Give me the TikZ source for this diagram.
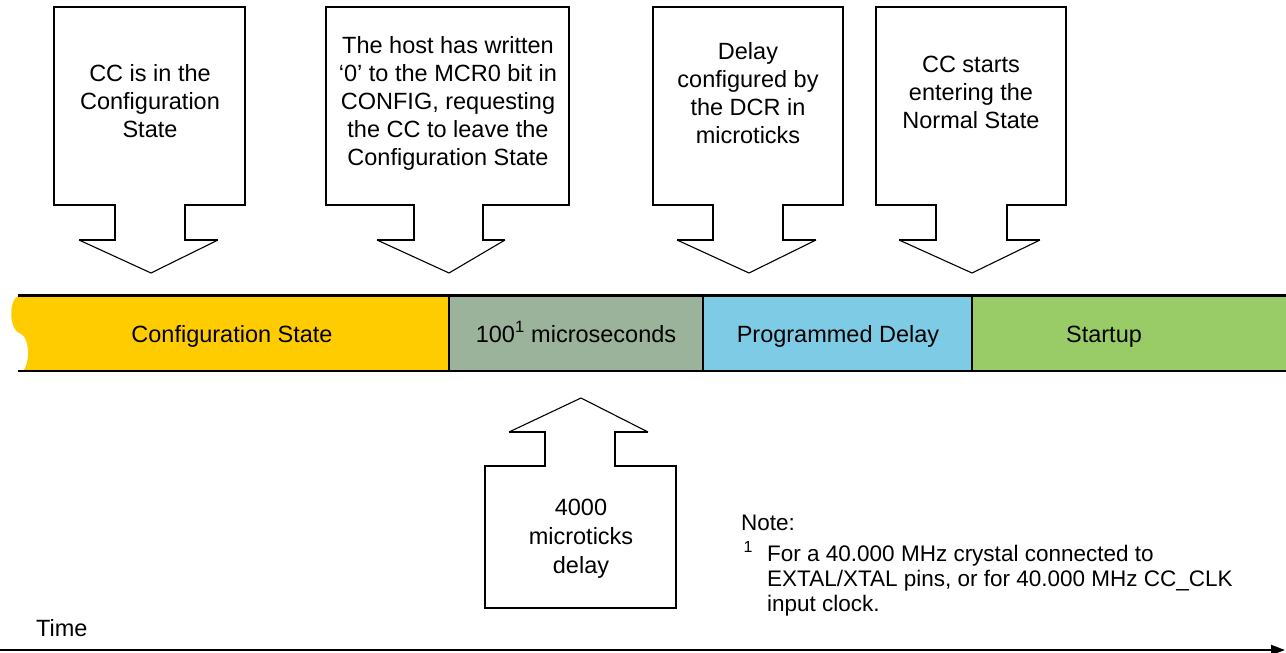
\documentclass[tikz,border=0pt]{standalone}
\usepackage{fontspec}
\setmainfont{Liberation Sans}
\usetikzlibrary{arrows.meta}
\definecolor{cfgyellow}{RGB}{255,204,0}
\definecolor{usgray}{RGB}{155,178,155}
\definecolor{pdblue}{RGB}{126,203,230}
\definecolor{stgreen}{RGB}{153,204,102}
\tikzset{
  boxline/.style={draw=black, line width=1.9pt, line join=miter},
  headline/.style={draw=black, line width=1.1pt, line join=miter},
  lbl/.style={inner sep=0pt, align=center, font=\fontsize{23.5}{28}\selectfont},
  barlbl/.style={inner sep=0pt, anchor=base, font=\fontsize{23.5}{28}\selectfont},
  notelbl/.style={inner sep=0pt, align=left, anchor=west, font=\fontsize{22.5}{25}\selectfont},
  barline/.style={draw=black, line width=2.4pt},
  divline/.style={draw=black, line width=1.8pt},
}
\begin{document}
\begin{tikzpicture}[x=1pt,y=-1pt]
\useasboundingbox (0,0) rectangle (1286,653);

% ---------- down arrows ----------
% arrow 1
\draw[boxline] (79,240) -- (115,240) -- (115,205) -- (54,205) -- (54,7) -- (245,7) -- (245,205) -- (185,205) -- (185,240) -- (218,240);
\draw[headline] (218,240) -- (151,273) -- (79,240);
\node[lbl] (t1) at (150,101) {CC is in the\\Configuration\\State};
% arrow 2
\draw[boxline] (377,240) -- (414,240) -- (414,205) -- (326,205) -- (326,7) -- (569,7) -- (569,205) -- (483,205) -- (483,240) -- (505,240);
\draw[headline] (505,240) -- (449,273) -- (377,240);
\node[lbl] (t2) at (448,103) {The host has written\\`0' to the MCR0 bit in\\CONFIG, requesting\\the CC to leave the\\Configuration State};
% arrow 3
\draw[boxline] (677,240) -- (713,240) -- (713,205) -- (653,205) -- (653,7) -- (843,7) -- (843,205) -- (783,205) -- (783,240) -- (816,240);
\draw[headline] (816,240) -- (749,273) -- (677,240);
\node[lbl] (t3) at (748,93) {Delay\\configured by\\the DCR in\\microticks};
% arrow 4
\draw[boxline] (899,240) -- (936,240) -- (936,205) -- (876,205) -- (876,7) -- (1066,7) -- (1066,205) -- (1007,205) -- (1007,240) -- (1040,240);
\draw[headline] (1040,240) -- (972,273) -- (899,240);
\node[lbl] (t4) at (971,92) {CC starts\\entering the\\Normal State};

% ---------- bar ----------
\fill[cfgyellow] (18,296) .. controls (9,300) and (8,330) .. (21,334) .. controls (30,338) and (30,364) .. (23,371) -- (449,371) -- (449,296) -- cycle;
\fill[usgray] (449,296) rectangle (703,371);
\fill[pdblue] (703,296) rectangle (972,371);
\fill[stgreen] (972,296) rectangle (1286,371);
\draw[barline] (18,295.5) -- (1286,295.5);
\draw[barline] (18,371) -- (1286,371);
\draw[divline] (449,295) -- (449,371);
\draw[divline] (703,295) -- (703,371);
\draw[divline] (972,295) -- (972,371);
\node[barlbl] (s1) at (232,342) {Configuration State};
\node[barlbl] (s2) at (576,342) {100\textsuperscript{1} microseconds};
\node[barlbl] (s3) at (838,342) {Programmed Delay};
\node[barlbl] (s4) at (1104,342) {Startup};

% ---------- up arrow ----------
\draw[boxline] (509,432) -- (545,432) -- (545,466) -- (485,466) -- (485,608) -- (676,608) -- (676,466) -- (615,466) -- (615,432) -- (648,432);
\draw[headline] (648,432) -- (581,398) -- (509,432);
\node[lbl, font=\fontsize{23.5}{29}\selectfont] (t5) at (581,539) {4000\\microticks\\delay};

% ---------- note ----------
\node[notelbl] (note) at (741,523) {Note:};
\node[inner sep=0pt, font=\fontsize{16}{18}\selectfont] (fn) at (748,547) {1};
\node[notelbl] (notetext) at (767,581) {For a 40.000 MHz crystal connected to\\EXTAL/XTAL pins, or for 40.000 MHz CC\_CLK\\input clock.};

% ---------- time axis ----------
\node[inner sep=0pt, anchor=west, font=\fontsize{23.5}{28}\selectfont] (time) at (36,628) {Time};
\coordinate (ax0) at (0,650);
\coordinate (ax1) at (1285,650);
\draw[line width=2pt, -{Stealth[length=14pt, width=10pt, inset=0pt]}] (ax0) -- (ax1);
\end{tikzpicture}
\end{document}
